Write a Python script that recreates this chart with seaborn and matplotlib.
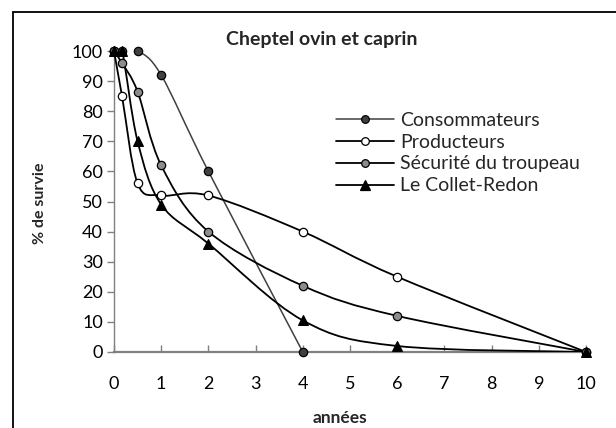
import numpy as np
import pandas as pd
import matplotlib
matplotlib.use("Agg")
import matplotlib.pyplot as plt
from matplotlib.path import Path
from matplotlib.patches import PathPatch
from matplotlib.lines import Line2D
import seaborn as sns

# Survival of the flock (% still present) by year, per source
annees = [0, 0.17, 0.5, 1, 2, 4, 6, 10]
consommateurs = [100, 100, 100, 92, 60, 0, None, None]
producteurs = [100, 85, 56, 52, 52, 40, 25, 0]
securite = [100, 96, 86.5, 62, 40, 22, 12, 0]
collet_redon = [100, 100, 70, 49, 36, 10.5, 2, 0]

series_names = ["Consommateurs", "Producteurs", "Sécurité du troupeau", "Le Collet-Redon"]
series_values = [consommateurs, producteurs, securite, collet_redon]

x_ticks = list(range(0, 11))
y_ticks = list(range(0, 101, 10))

title = "Cheptel ovin et caprin"
x_label = "années"
y_label = "% de survie"

# styles
line_col = {"Consommateurs": "#404040", "Producteurs": "black",
            "Sécurité du troupeau": "black", "Le Collet-Redon": "black"}
line_w = {"Consommateurs": 1.1, "Producteurs": 1.3,
          "Sécurité du troupeau": 1.3, "Le Collet-Redon": 1.3}
face_col = {"Consommateurs": "#404040", "Producteurs": "white",
            "Sécurité du troupeau": "#8c8c8c", "Le Collet-Redon": "black"}
marker = {"Consommateurs": "o", "Producteurs": "o",
          "Sécurité du troupeau": "o", "Le Collet-Redon": "^"}
msize = {"Consommateurs": 6, "Producteurs": 6,
         "Sécurité du troupeau": 6, "Le Collet-Redon": 7}

rows = []
for name, vals in zip(series_names, series_values):
    for x, y in zip(annees, vals):
        if y is not None:
            rows.append({"annees": x, "survie": y, "serie": name})
df = pd.DataFrame(rows)

sns.set_theme(style="white")
font = "Lato"
plt.rcParams["font.family"] = [font, "DejaVu Sans"]

fig = plt.figure(figsize=(6.16, 4.28), dpi=100)
ax = fig.add_axes([114 / 616, 1 - 352 / 428, (586 - 114) / 616, (352 - 51) / 428])


def smooth_path(xs, ys):
    """Catmull-Rom style cubic Bezier path through the points."""
    P = np.column_stack([xs, ys]).astype(float)
    n = len(P)
    verts = [P[0]]
    codes = [Path.MOVETO]
    for i in range(n - 1):
        p0 = P[i - 1] if i > 0 else P[i]
        p1, p2 = P[i], P[i + 1]
        p3 = P[i + 2] if i + 2 < n else P[i + 1]
        c1 = p1 + (p2 - p0) / 6.0
        c2 = p2 - (p3 - p1) / 6.0
        verts += [c1, c2, p2]
        codes += [Path.CURVE4] * 3
    return Path(verts, codes)


for name in series_names:
    sub = df[df["serie"] == name]
    patch = PathPatch(smooth_path(sub["annees"].values, sub["survie"].values),
                      facecolor="none", edgecolor=line_col[name],
                      lw=line_w[name], zorder=3)
    ax.add_patch(patch)

for name in series_names:
    sub = df[df["serie"] == name]
    sns.scatterplot(data=sub, x="annees", y="survie", ax=ax, marker=marker[name],
                    s=msize[name] ** 2, color=face_col[name], edgecolor="black",
                    linewidth=0.9, zorder=4, legend=False, clip_on=False)

ax.set_xlim(0, 10)
ax.set_ylim(0, 100)
ax.set_xticks(x_ticks)
ax.set_yticks(y_ticks)
ax.set_xlabel("")
ax.set_ylabel("")
for s in ["top", "right"]:
    ax.spines[s].set_visible(False)
ax.spines["left"].set_color("#808080")
ax.spines["bottom"].set_color("#808080")
ax.spines["left"].set_linewidth(1.0)
ax.spines["bottom"].set_linewidth(1.6)
ax.tick_params(axis="x", direction="in", length=5, width=1, color="#808080",
               labelsize=13, pad=17, labelcolor="black")
ax.tick_params(axis="y", direction="out", length=5, width=1, color="#808080",
               labelsize=13, pad=3, labelcolor="black")
ax.tick_params(bottom=True, left=True)

fig.text(322 / 616, 1 - 40 / 428, title, ha="center", va="center",
         fontsize=14, fontweight="bold")
fig.text(340 / 616, 1 - 418 / 428, x_label, ha="center", va="center",
         fontsize=12.5, fontweight="bold")
fig.text(40 / 616, 1 - 203 / 428, y_label, ha="center", va="center",
         rotation=90, fontsize=11.5, fontweight="bold")

handles = [Line2D([], [], color=line_col[n], lw=line_w[n], marker=marker[n],
                  markersize=msize[n] - 0.5, markerfacecolor=face_col[n],
                  markeredgecolor="black", markeredgewidth=0.9)
           for n in series_names]
leg = ax.legend(handles, series_names, loc="upper left",
                bbox_to_anchor=((328 - 114) / 472, (352 - 104) / 301),
                frameon=False, fontsize=14, handlelength=3.0, handletextpad=0.3,
                labelspacing=0.25, borderaxespad=0)

# outer chart frame
fig.add_artist(Line2D([13 / 616, 1], [1 - 12 / 428] * 2, color="black", lw=1.3))
fig.add_artist(Line2D([13 / 616] * 2, [0, 1 - 12 / 428], color="black", lw=1.3))

fig.savefig("out.png", dpi=100)
